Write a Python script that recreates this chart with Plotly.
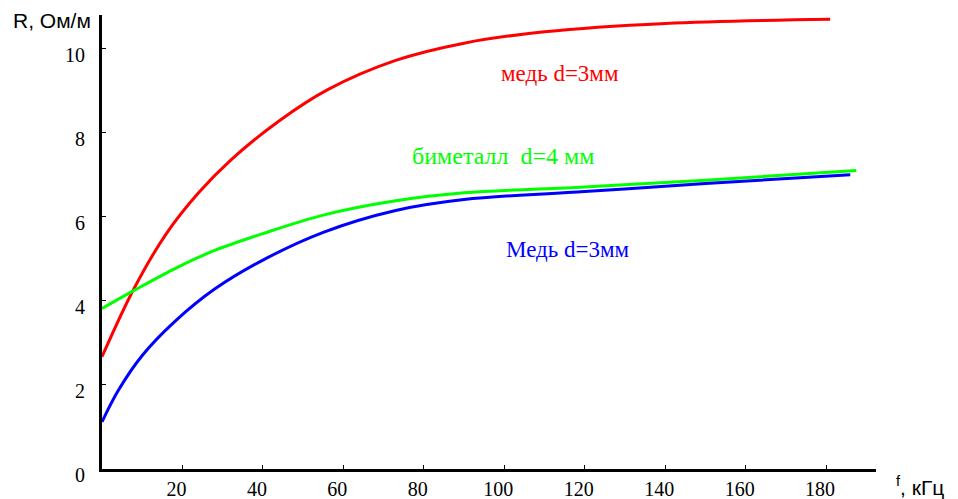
import plotly.graph_objects as go

# Frequency (kHz) and resistance (Ohm/m)
red_f = [0, 8, 16, 24, 32, 44, 56, 73, 90, 110, 140, 181]
red_r = [2.67, 4.3, 5.6, 6.57, 7.35, 8.28, 9.02, 9.72, 10.13, 10.4, 10.6, 10.7]

green_f = [0, 8, 19, 28, 40, 55, 73, 90, 120, 150, 187.5]
green_r = [3.82, 4.25, 4.81, 5.2, 5.6, 6.04, 6.38, 6.57, 6.71, 6.87, 7.1]

blue_f = [0, 4, 10, 18, 28, 40, 55, 73, 90, 120, 150, 186]
blue_r = [1.12, 1.86, 2.7, 3.5, 4.28, 4.97, 5.63, 6.15, 6.41, 6.6, 6.79, 7.0]

x_ticks = [20, 40, 60, 80, 100, 120, 140, 160, 180]
y_ticks = [0, 2, 4, 6, 8, 10]

labels = ["медь d=3мм", "биметалл\u00a0\u00a0d=4 мм", "Медь d=3мм"]
label_f = [113.9, 99.8, 115.9]
label_r = [9.4, 7.44, 5.23]
label_size = [23, 24, 23]

serif = "Liberation Serif, Times New Roman, serif"
sans = "Liberation Sans, Arial, sans-serif"

fig = go.Figure()
for f, r, c in [(red_f, red_r, "#ff0000"), (green_f, green_r, "#00ff00"), (blue_f, blue_r, "#0000ff")]:
    fig.add_trace(go.Scatter(x=f, y=r, mode="lines", line=dict(color=c, width=3, shape="spline", smoothing=1.0),
                             showlegend=False, hoverinfo="skip"))

for t, xf, yr, c, s in zip(labels, label_f, label_r, ["#ff0000", "#00ff00", "#0000ff"], label_size):
    fig.add_annotation(x=xf, y=yr, xref="x", yref="y", text=t, showarrow=False,
                       font=dict(family=serif, size=s, color=c))

fig.add_annotation(x=-0.118, y=0.987, xref="paper", yref="paper", xanchor="left", yanchor="middle",
                   text="R, Ом/м", showarrow=False, font=dict(family=sans, size=21, color="black"))
fig.add_annotation(x=1.023, y=-0.037, xref="paper", yref="paper", xanchor="left", yanchor="middle",
                   text="<sup>f</sup>, кГц", showarrow=False, font=dict(family=sans, size=21, color="black"))

# The page body has an 8px margin, so the figure is sized/offset to compensate
fig.update_layout(
    width=950, height=491,
    margin=dict(l=94, r=82, t=7, b=30, autoexpand=False),
    paper_bgcolor="white", plot_bgcolor="white",
    xaxis=dict(range=[0, 192.4], tickvals=x_ticks, ticktext=[str(v) for v in x_ticks], automargin=False,
               showgrid=False, zeroline=False, showline=True, linecolor="black", linewidth=3,
               ticks="inside", ticklen=4, tickwidth=1, tickcolor="black",
               tickfont=dict(family=serif, size=20, color="black"), ticklabelshift=-6, ticklabelstandoff=0),
    yaxis=dict(range=[0, 10.8], tickvals=y_ticks, ticktext=[str(v) for v in y_ticks], automargin=False,
               showgrid=False, zeroline=False, showline=True, linecolor="black", linewidth=3,
               ticks="inside", ticklen=4, tickwidth=1, tickcolor="black",
               tickfont=dict(family=serif, size=20, color="black"), ticklabelshift=6, ticklabelstandoff=10),
)

fig.write_html("out.html")
